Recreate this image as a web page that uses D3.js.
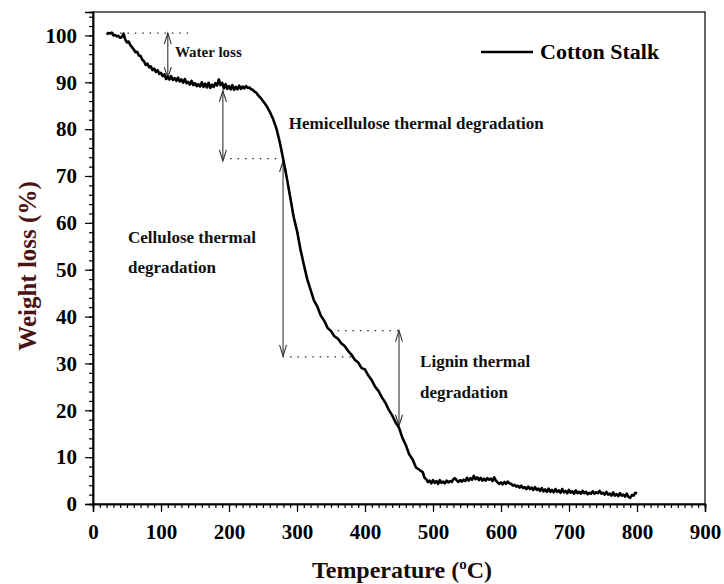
<!DOCTYPE html>
<html><head><meta charset="utf-8">
<script src="https://cdn.jsdelivr.net/npm/d3@7"></script>
<style>body{margin:0;background:#fff}svg{display:block}</style>
</head><body>
<svg id="c" width="724" height="584"></svg>
<script>
const temperature = [
20,22.5,25,27.5,30,32.5,35,37.5,40,42.5,45,47.5,50,52.5,55,57.5,60,62.5,65,67.5,70,72.5,75,77.5,80,82.5,85,87.5,90,92.5,95,97.5,
100,102.5,105,107.5,110,112.5,115,117.5,120,122.5,125,127.5,130,132.5,135,137.5,140,142.5,145,147.5,150,152.5,155,157.5,160,162.5,165,167.5,170,172.5,175,177.5,180,182.5,185,187.5,190,192.5,195,197.5,
200,202.5,205,207.5,210,212.5,215,217.5,220,222.5,225,227.5,230,232.5,235,237.5,240,242.5,245,247.5,250,
255,260,265,270,275,280,285,290,295,300,305,310,315,320,325,330,335,340,345,350,355,360,365,370,375,380,385,390,395,400,405,410,415,420,425,430,435,440,445,450,455,460,465,470,475,
480,482.5,485,487.5,490,492.5,495,497.5,500,502.5,505,507.5,510,512.5,515,517.5,520,522.5,525,527.5,530,532.5,535,537.5,540,542.5,545,547.5,550,552.5,555,557.5,560,562.5,565,567.5,570,572.5,575,577.5,580,582.5,585,587.5,590,592.5,595,597.5,
600,602.5,605,607.5,610,612.5,615,617.5,620,622.5,625,627.5,630,632.5,635,637.5,640,642.5,645,647.5,650,652.5,655,657.5,660,662.5,665,667.5,670,672.5,675,677.5,680,682.5,685,687.5,690,692.5,695,697.5,
700,702.5,705,707.5,710,712.5,715,717.5,720,722.5,725,727.5,730,732.5,735,737.5,740,742.5,745,747.5,750,752.5,755,757.5,760,762.5,765,767.5,770,772.5,775,777.5,780,782.5,785,787.5,790,792.5,795,797.5,800];
const weight = [
100.2,100.5,100.4,100.6,100.0,100.1,99.8,99.9,99.5,99.7,100.4,99.1,98.5,98.7,97.9,97.5,97.0,96.4,96.5,95.7,95.6,94.8,94.5,93.7,94.0,93.2,93.4,92.6,92.9,92.2,92.6,91.8,
92.0,91.3,91.7,90.7,91.2,90.6,91.3,90.5,90.9,90.3,91.0,90.2,90.6,89.9,90.7,89.8,90.1,89.5,90.3,89.4,89.8,89.2,89.6,89.1,90.0,89.0,89.7,88.9,89.9,88.8,89.5,89.0,89.8,89.3,90.6,89.4,89.9,88.7,89.6,88.6,
89.2,88.5,89.4,88.4,89.0,88.5,89.3,88.6,89.1,88.7,89.2,88.8,88.9,88.5,88.4,88.0,87.8,87.3,86.9,86.5,86.0,
85.0,83.7,82.1,80.0,77.0,73.4,69.6,65.5,61.3,58.3,54.4,51.1,48.0,45.7,43.4,42.1,40.2,39.1,37.6,36.9,35.8,35.3,34.3,33.7,32.7,31.9,30.8,30.2,29.0,28.7,27.4,26.4,25.0,24.1,22.7,21.6,20.1,18.9,17.4,16.3,14.1,12.6,10.6,9.5,7.8,
7.3,7.0,6.8,5.6,5.3,4.7,5.0,4.4,5.1,4.5,4.9,4.3,5.1,4.5,4.8,4.4,5.0,4.6,4.9,4.7,5.3,5.5,5.0,4.7,5.1,4.8,5.2,4.9,5.6,5.0,5.5,5.2,6.0,5.3,5.7,5.1,5.6,5.0,5.4,5.0,5.5,5.2,5.4,4.9,5.7,5.0,4.6,4.3,
4.6,4.2,4.7,4.3,4.8,4.4,4.3,3.9,4.1,3.7,3.9,3.5,3.9,3.4,3.6,3.2,3.7,3.2,3.5,3.0,3.6,3.0,3.3,2.8,3.4,2.7,3.1,2.6,3.3,2.6,3.0,2.5,3.2,2.6,2.9,2.4,3.2,2.5,2.8,2.3,
3.0,2.4,2.7,2.2,2.9,2.3,2.6,2.2,2.8,2.3,2.6,2.1,2.4,2.2,2.7,2.2,2.5,2.3,2.8,2.2,2.4,2.0,2.6,2.0,2.2,1.8,2.5,1.8,2.1,1.7,2.3,1.8,2.0,1.6,2.2,1.5,1.3,1.9,1.8,2.4,2.2];
const xTicks = [0,100,200,300,400,500,600,700,800,900];
const yTicks = [0,10,20,30,40,50,60,70,80,90,100];
const seriesName = "Cotton Stalk";
// annotations (data coordinates)
const dottedT1 = [29,191,279,349];
const dottedT2 = [140,272,381,450];
const dottedW = [100.5,73.7,31.4,37.0];
const arrowT = [110,191,279.5,450];
const arrowW1 = [100.5,88.2,73.2,37.0];
const arrowW2 = [90.9,73.2,31.6,16.7];
const labelLines = ["Water loss","Hemicellulose thermal degradation","Cellulose thermal","degradation","Lignin thermal","degradation"];
const labelT = [120.5,288,51.5,51.5,481,481];
const labelW = [95.4,80.1,55.6,49.2,29.2,22.6];
const labelSize = [15,17,17,17,17,17];

const W = 724, H = 584;
const m = {l:93, r:19, t:12, b:80};
const svg = d3.select("#c");
const x = d3.scaleLinear().domain([0,900]).range([m.l, W-m.r]);
const y = d3.scaleLinear().domain([0,105]).range([H-m.b, m.t]);
const font = "'Liberation Serif','Times New Roman',serif";

// frame
svg.append("rect").attr("x",m.l).attr("y",m.t).attr("width",W-m.r-m.l).attr("height",H-m.b-m.t)
  .attr("fill","none").attr("stroke","#000").attr("stroke-width",1.2);

// x axis
const gx = svg.append("g").attr("transform",`translate(0,${H-m.b})`);
gx.call(d3.axisBottom(x).tickValues(d3.range(0,901,10)).tickSize(4).tickFormat(""));
const gxM = svg.append("g").attr("transform",`translate(0,${H-m.b})`);
gxM.call(d3.axisBottom(x).tickValues(xTicks).tickSize(8).tickPadding(12).tickFormat(d3.format("d")));
[gx,gxM].forEach(g=>{g.select(".domain").attr("stroke-width",1.5);g.selectAll("line").attr("stroke","#000").attr("stroke-width",1.2);});
gxM.selectAll("text").attr("font-family",font).attr("font-weight","bold").attr("font-size",21).attr("fill","#000");

// y axis
const gy = svg.append("g").attr("transform",`translate(${m.l},0)`);
gy.call(d3.axisLeft(y).tickValues(d3.range(0,105,2)).tickSize(4).tickFormat(""));
const gyM = svg.append("g").attr("transform",`translate(${m.l},0)`);
gyM.call(d3.axisLeft(y).tickValues(yTicks).tickSize(8).tickPadding(8).tickFormat(d3.format("d")));
[gy,gyM].forEach(g=>{g.select(".domain").attr("stroke-width",1.5);g.selectAll("line").attr("stroke","#000").attr("stroke-width",1.2);});
gyM.selectAll("text").attr("font-family",font).attr("font-weight","bold").attr("font-size",21).attr("fill","#000");

// axis titles
const xt = svg.append("text").attr("x",(m.l+W-m.r)/2+3).attr("y",578).attr("text-anchor","middle")
  .attr("font-family",font).attr("font-weight","bold").attr("font-size",24).attr("fill","#1a0a0a");
xt.append("tspan").text("Temperature (");
xt.append("tspan").attr("font-size",15).attr("dy",-9).text("o");
xt.append("tspan").attr("dy",9).text("C)");
svg.append("text").attr("transform",`translate(36,${(m.t+H-m.b)/2+8}) rotate(-90)`).attr("text-anchor","middle")
  .attr("font-family",font).attr("font-weight","bold").attr("font-size",25).attr("fill","#4a1414").text("Weight loss (%)");

// dotted lines
dottedW.forEach((w,i)=>{
  svg.append("line").attr("x1",x(dottedT1[i])).attr("x2",x(dottedT2[i])).attr("y1",y(w)).attr("y2",y(w))
    .attr("stroke","#222").attr("stroke-width",1.4).attr("stroke-dasharray","1.4,6");
});

// arrows
arrowT.forEach((t,i)=>{
  const ax = x(t), y1 = y(arrowW1[i]), y2 = y(arrowW2[i]);
  const g = svg.append("g").attr("stroke","#333").attr("stroke-width",1.1).attr("fill","none");
  g.append("line").attr("x1",ax).attr("x2",ax).attr("y1",y1).attr("y2",y2);
  g.append("path").attr("d",`M${ax-3.5},${y1+11}L${ax},${y1}L${ax+3.5},${y1+11}`);
  g.append("path").attr("d",`M${ax-3.5},${y2-11}L${ax},${y2}L${ax+3.5},${y2-11}`);
});

// curve
const pts = temperature.map((t,i)=>[t,weight[i]]);
svg.append("path").datum(pts).attr("fill","none").attr("stroke","#000").attr("stroke-width",2.6)
  .attr("stroke-linejoin","round").attr("d",d3.line().x(d=>x(d[0])).y(d=>y(d[1])));

// labels
labelLines.forEach((s,i)=>{
  svg.append("text").attr("x",x(labelT[i])).attr("y",y(labelW[i])).attr("font-family",font)
    .attr("font-weight","bold").attr("font-size",labelSize[i]).attr("fill","#111").text(s);
});

// legend
svg.append("line").attr("x1",481).attr("x2",533).attr("y1",52).attr("y2",52).attr("stroke","#000").attr("stroke-width",2.4);
svg.append("text").attr("x",540).attr("y",59).attr("font-family",font).attr("font-weight","bold")
  .attr("font-size",22).attr("fill","#000").text(seriesName);
</script>
</body></html>
